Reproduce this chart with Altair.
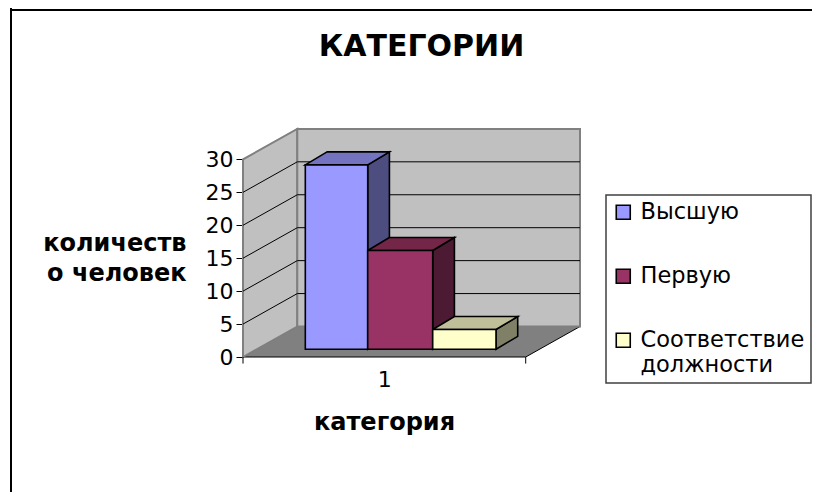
import altair as alt
import pandas as pd

series = ["Высшую", "Первую", "Соответствие должности"]
values = [28, 15, 3]
front_colors = ["#9999FF", "#993366", "#FFFFCC"]
side_colors = ["#4D4D80", "#4D1A33", "#808066"]
top_colors = ["#7373BF", "#732648", "#BFBF99"]
y_ticks = [0, 5, 10, 15, 20, 25, 30]
grid_values = [5, 10, 15, 20, 25]
category_label = "1"

# projection of the 3D box, in data units
Y_MAX = 30
X_DEPTH, Y_DEPTH = 0.192, 4.63
BAR_LEFT = [0.2204, 0.4411, 0.6710]
BAR_WIDTH = [0.2207, 0.2299, 0.2239]
BAR_BASE = 1.17
BAR_DX, BAR_DY = 0.0768, 1.97

W, H = 337, 228
FONT = "DejaVu Sans"

x_scale = alt.Scale(domain=[0, 1 + X_DEPTH], range=[0, W], nice=False, zero=False)
y_scale = alt.Scale(domain=[0, H / 6.587], range=[H, 0], nice=False, zero=False)

y_axis_def = alt.Axis(
    values=y_ticks, grid=False, domain=False, tickColor="#000000", tickSize=7, tickWidth=1,
    labelFont=FONT, labelFontSize=22, labelColor="#000000", labelPadding=3,
    title=["количеств", "о человек"], titleFont=FONT, titleFontSize=24, titleFontWeight="bold",
    titleColor="#000000", titleAngle=0, titleAlign="right", titleBaseline="middle",
    titleLineHeight=30, titleX=-57, titleY=114)
x_axis_def = alt.Axis(
    values=[0.5], ticks=False, domain=False, grid=False, labelExpr=f"'{category_label}'",
    labelFont=FONT, labelFontSize=22, labelColor="#000000", labelPadding=12,
    title="категория", titleFont=FONT, titleFontSize=24, titleFontWeight="bold",
    titleColor="#000000", titleX=141, titleY=53)

X = lambda f="x": alt.X(f"{f}:Q", scale=x_scale, axis=x_axis_def)
Y = lambda f="y": alt.Y(f"{f}:Q", scale=y_scale, axis=y_axis_def)

# walls and floor
floor = alt.Chart(pd.DataFrame([
    {"y": 0, "x": 0, "x2": 1},
    {"y": Y_DEPTH, "x": X_DEPTH, "x2": 1 + X_DEPTH},
])).mark_area(orient="horizontal", fill="#808080", stroke="#000000", strokeWidth=1).encode(
    y=Y(), x=X(), x2="x2:Q")

side_wall = alt.Chart(pd.DataFrame([
    {"x": 0, "y": 0, "y2": Y_MAX},
    {"x": X_DEPTH, "y": Y_DEPTH, "y2": Y_MAX + Y_DEPTH},
])).mark_area(orient="vertical", fill="#C0C0C0", stroke="#808080", strokeWidth=2).encode(
    x=X(), y=Y(), y2="y2:Q")

back_wall = alt.Chart(pd.DataFrame([
    {"x": X_DEPTH, "y": Y_DEPTH, "y2": Y_MAX + Y_DEPTH},
    {"x": 1 + X_DEPTH, "y": Y_DEPTH, "y2": Y_MAX + Y_DEPTH},
])).mark_area(orient="vertical", fill="#C0C0C0", stroke="#808080", strokeWidth=2).encode(
    x=X(), y=Y(), y2="y2:Q")

grid_rows = []
for v in grid_values:
    grid_rows += [
        {"v": v, "o": 0, "x": 0, "y": v},
        {"v": v, "o": 1, "x": X_DEPTH, "y": v + Y_DEPTH},
        {"v": v, "o": 2, "x": 1 + X_DEPTH, "y": v + Y_DEPTH},
    ]
grid = alt.Chart(pd.DataFrame(grid_rows)).mark_line(color="#000000", strokeWidth=1).encode(
    x=X(), y=Y(), detail="v:N", order="o:Q")

# bar faces
side_rows, top_rows, front_rows = [], [], []
for i, (s, v) in enumerate(zip(series, values)):
    x0 = BAR_LEFT[i]
    x1 = x0 + BAR_WIDTH[i]
    t = BAR_BASE + v
    b = BAR_BASE
    side_rows += [
        {"s": s, "x": x1, "y": b, "y2": t},
        {"s": s, "x": x1 + BAR_DX, "y": b + BAR_DY, "y2": t + BAR_DY},
    ]
    top_rows += [
        {"s": s, "y": t, "x": x0, "x2": x1},
        {"s": s, "y": t + BAR_DY, "x": x0 + BAR_DX, "x2": x1 + BAR_DX},
    ]
    front_rows.append({"s": s, "x": x0, "x2": x1, "y": b, "y2": t})

sides = alt.Chart(pd.DataFrame(side_rows)).mark_area(
    orient="vertical", stroke="#000000", strokeWidth=1.6).encode(
    x=X(), y=Y(), y2="y2:Q", detail="s:N",
    fill=alt.Fill("s:N", scale=alt.Scale(domain=series, range=side_colors), legend=None))

tops = alt.Chart(pd.DataFrame(top_rows)).mark_area(
    orient="horizontal", stroke="#000000", strokeWidth=1.6).encode(
    y=Y(), x=X(), x2="x2:Q", detail="s:N",
    fill=alt.Fill("s:N", scale=alt.Scale(domain=series, range=top_colors), legend=None))

legend = alt.Legend(
    orient="none", legendX=363, legendY=66, title=None, symbolType="square", symbolSize=196,
    symbolStrokeColor="#000000", symbolStrokeWidth=1.6, symbolOpacity=1,
    labelFont=FONT, labelFontSize=22.5, labelColor="#000000", labelLimit=300, labelOffset=6,
    labelExpr="datum.label == 'Соответствие должности' ? ['Соответствие', 'должности'] : datum.label",
    rowPadding=41, padding=6, fillColor="#FFFFFF", strokeColor="#404040")

fronts = alt.Chart(pd.DataFrame(front_rows)).mark_rect(
    stroke="#000000", strokeWidth=1.6).encode(
    x=X(), x2="x2:Q", y=Y(), y2="y2:Q",
    color=alt.Color("s:N", scale=alt.Scale(domain=series, range=front_colors), legend=legend, sort=series))

# tick marks of the category axis
x_ticks = alt.Chart(pd.DataFrame({"x": [0, 1]})).mark_rule(color="#000000", strokeWidth=1).encode(
    x=X(),
    y=alt.Y(datum=0, scale=y_scale, axis=y_axis_def),
    y2=alt.Y2(datum=-1.0))

# picture frame, page coordinates
frame_left = alt.Chart(pd.DataFrame({"a": [0]})).mark_rule(color="#000000", strokeWidth=2).encode(
    x=alt.value(-232), y=alt.value(-121), y2=alt.value(H + 135))
frame_top = alt.Chart(pd.DataFrame({"a": [0]})).mark_rule(color="#000000", strokeWidth=2).encode(
    y=alt.value(-119), x=alt.value(-233), x2=alt.value(W + 232))

chart = alt.layer(
    frame_left, frame_top, floor, side_wall, back_wall, grid, sides, tops, fronts, x_ticks
).resolve_scale(fill="independent", color="independent").properties(
    width=W, height=H,
    title=alt.Title("КАТЕГОРИИ", font=FONT, fontSize=30, fontWeight="bold", color="#000000",
                    anchor="middle", frame="group", dx=10, offset=0, dy=55),
    padding={"left": 235, "top": 121, "right": 232, "bottom": 135},
    autosize=alt.AutoSizeParams(type="none"),
    background="#FFFFFF",
).configure_view(stroke=None).configure_legend(strokeWidth=1.5)

chart.save("out.html", embed_options={"renderer": "svg", "actions": False})
